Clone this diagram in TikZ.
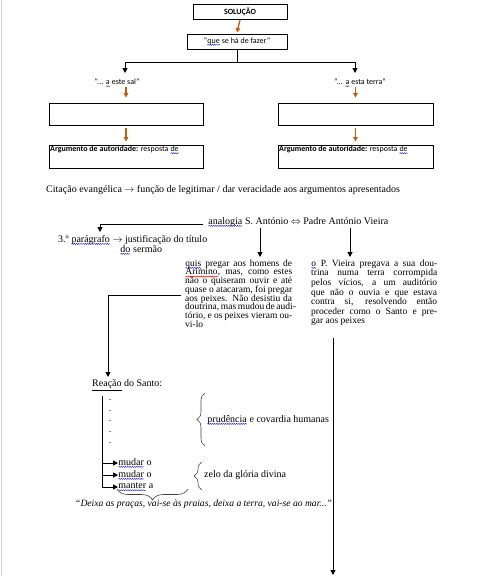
\documentclass[tikz,border=0pt]{standalone}
\usepackage{fontspec}
\setmainfont{Liberation Serif}
\newfontfamily\calfont{Carlito}
\usetikzlibrary{arrows.meta,decorations.pathreplacing,decorations.pathmorphing,calc}
\definecolor{worange}{RGB}{197,90,17}
\definecolor{sqblue}{RGB}{40,40,210}
\newcommand\tightlines{\lineskiplimit-20pt\relax}
\newcommand\sqc[2]{\tikz[baseline=(w.base)]{\node[inner sep=0pt,outer sep=0pt,minimum width=0pt,minimum height=0pt,draw=none,fill=none,anchor=center,align=left](w){#2};\draw[#1,line width=0.45pt,decorate,decoration={snake,amplitude=0.55pt,segment length=2.2pt}] ([yshift=-1.6pt]w.base west) -- ([yshift=-1.6pt]w.base east);}}
\newcommand\sqb[1]{\sqc{sqblue}{#1}}
\newcommand\sqr[1]{\sqc{red}{#1}}
\begin{document}
\begin{tikzpicture}[x=1pt,y=-1pt,
  box/.style={draw,line width=0.9pt,inner sep=0pt},
  oarr/.style={draw=worange,line width=1.3pt,-{Triangle[length=4.5pt,width=4.5pt]}},
  barr/.style={line width=1pt,-{Triangle[length=5pt,width=5pt]}},
  bline/.style={line width=1pt},
  tnr/.style={font={\fontsize{10}{9}\selectfont\tightlines},inner sep=0pt},
  blk/.style={font={\fontsize{9.5}{8.7}\selectfont\tightlines},inner sep=0pt,align=left,anchor=north west},
  cal/.style={font={\calfont\fontsize{8}{9}\selectfont},inner sep=0pt},
  brc/.style={decorate,line width=0.6pt,draw=black!75}]
\useasboundingbox (0,0) rectangle (480,576);
\draw[gray!35,line width=0.8pt] (1,0) -- (1,576);
% top boxes
\node[box,cal,minimum width=94pt,minimum height=15pt] (sol) at (240,11.5) {\textbf{SOLUÇÃO}};
\node[box,cal,minimum width=100pt,minimum height=15pt] (que) at (237,41.5) {“\sqb{que} se há de fazer”};
\draw[oarr] ([yshift=-0.5pt]sol.south) -- ([yshift=1pt]que.north);
\coordinate (j) at (237,62);
\node[cal] (sal) at (117,83) {“... \sqb{a} este sal”};
\node[cal] (ter) at (360,83) {“... \sqb{a} esta terra”};
\node[box,minimum width=154pt,minimum height=22pt] (a1) at (126,114) {};
\node[box,minimum width=155pt,minimum height=22pt] (b1) at (355.5,114) {};
\node[box,minimum width=154pt,minimum height=23pt] (a2) at (126,156.5) {};
\node[box,minimum width=155pt,minimum height=23pt] (b2) at (355.5,156.5) {};
\node[cal,anchor=west] (a2t) at (50,150) {\textbf{Argumento de autoridade:} resposta \sqb{de}};
\node[cal,anchor=west] (b2t) at (279,150) {\textbf{Argumento de autoridade:} resposta \sqb{de}};
\coordinate (sa) at (125,73);
\coordinate (tb) at (355,73);
\draw[bline] (que.south) -- (j);
\draw[barr] (j) -| (sa);
\draw[barr] (j) -| (tb);
\draw[oarr] (sal.south -| a1.north) -- ([yshift=5pt]a1.north);
\draw[oarr] (ter.south -| b1.north) -- ([yshift=5pt]b1.north);
\draw[oarr] ([yshift=-3pt]a1.south) -- ([yshift=3pt]a2.north);
\draw[oarr] ([yshift=-3pt]b1.south) -- ([yshift=3pt]b2.north);
% citation
\node[tnr,anchor=west] (cit) at (46,190) {Citação evangélica $\rightarrow$ função de legitimar / dar veracidade aos argumentos apresentados};
% analogia
\node[tnr,anchor=west] (an) at (208,222) {\sqb{analogia} S. António $\Leftrightarrow$ Padre António Vieira};
\coordinate (h0) at (203,224);
\coordinate (h1) at (100,232);
\draw[barr] (h0) -| (h1);
\node[tnr,anchor=west] (par) at (58,240) {3.º \sqb{parágrafo} $\rightarrow$ justificação do título};
\node[tnr,anchor=west] (ser) at (120,250) {\sqb{do} sermão};
\coordinate (s1) at (260,228);
\coordinate (s2) at (260,257);
\coordinate (p1) at (350,228);
\coordinate (p2) at (350,257);
\draw[barr] (s1) -- (s2);
\draw[barr] (p1) -- (p2);
% blocks
\node[blk] (lb) at (185,259.5) {%
\makebox[107pt][s]{\sqb{quis} pregar aos homens de}\\
\makebox[107pt][s]{\sqr{Arimino}, mas, como estes}\\
\makebox[107pt][s]{não o quiseram ouvir e até}\\
\makebox[107pt][s]{quase o atacaram, foi pregar}\\
\makebox[107pt][s]{aos peixes. Não desistiu da}\\
\makebox[107pt][s]{doutrina, mas mudou de audi-}\\
\makebox[107pt][s]{tório, e os peixes vieram ou-}\\
vi-lo};
\node[blk,font={\fontsize{9.5}{9.6}\selectfont\tightlines}] (rb) at (311,259.5) {%
\makebox[126pt][s]{\sqb{o} P. Vieira pregava a sua dou-}\\
\makebox[126pt][s]{trina numa terra corrompida}\\
\makebox[126pt][s]{pelos vícios, a um auditório}\\
\makebox[126pt][s]{que não o ouvia e que estava}\\
\makebox[126pt][s]{contra si, resolvendo então}\\
\makebox[126pt][s]{proceder como o Santo e pre-}\\
gar aos peixes};
\coordinate (l0) at (181,295);
\coordinate (l1) at (108,377);
\draw[barr] (l0) -| (l1);
% reaction
\node[tnr,anchor=west] (rea) at (92,385) {\underline{Reação} do Santo:};
\foreach \y [count=\i] in {400,411,421.5,432,443} {\node[tnr] (d\i) at (110,\y) {.};}
\coordinate (v0) at (102,396);
\coordinate (v1) at (102,463);
\coordinate (v2) at (102,475);
\node[tnr,anchor=west] (m1) at (118,463) {\sqb{mudar} o};
\node[tnr,anchor=west] (m2) at (118,475) {\sqb{mudar} o};
\node[tnr,anchor=west] (m3) at (118,487) {\sqb{manter} a};
\draw[barr] (v0) |- (m3.west);
\draw[barr] (v1) -- (m1.west);
\draw[barr] (v2) -- (m2.west);
% braces
\draw[brc,decoration={brace,amplitude=8pt}] (205,446) -- (205,393);
\node[tnr,anchor=west] (pr) at (207,420) {\sqb{prudência} e covardia humanas};
\draw[brc,decoration={brace,amplitude=8pt}] (202,490) -- (202,462);
\node[tnr,anchor=west] (ze) at (204,475) {zelo da glória divina};
\draw[brc,decoration={brace,amplitude=11pt}] (188,489) -- (117,489);
\node[tnr,anchor=west,font={\fontsize{9.6}{8.6}\selectfont\itshape}] (qt) at (75,504) {“Deixa as praças, vai-se às praias, deixa a terra, vai-se ao mar...”};
% long line
\coordinate (r0) at (333,338);
\coordinate (r1) at (333,575);
\draw[barr] (r0) -- (r1);
\end{tikzpicture}
\end{document}
